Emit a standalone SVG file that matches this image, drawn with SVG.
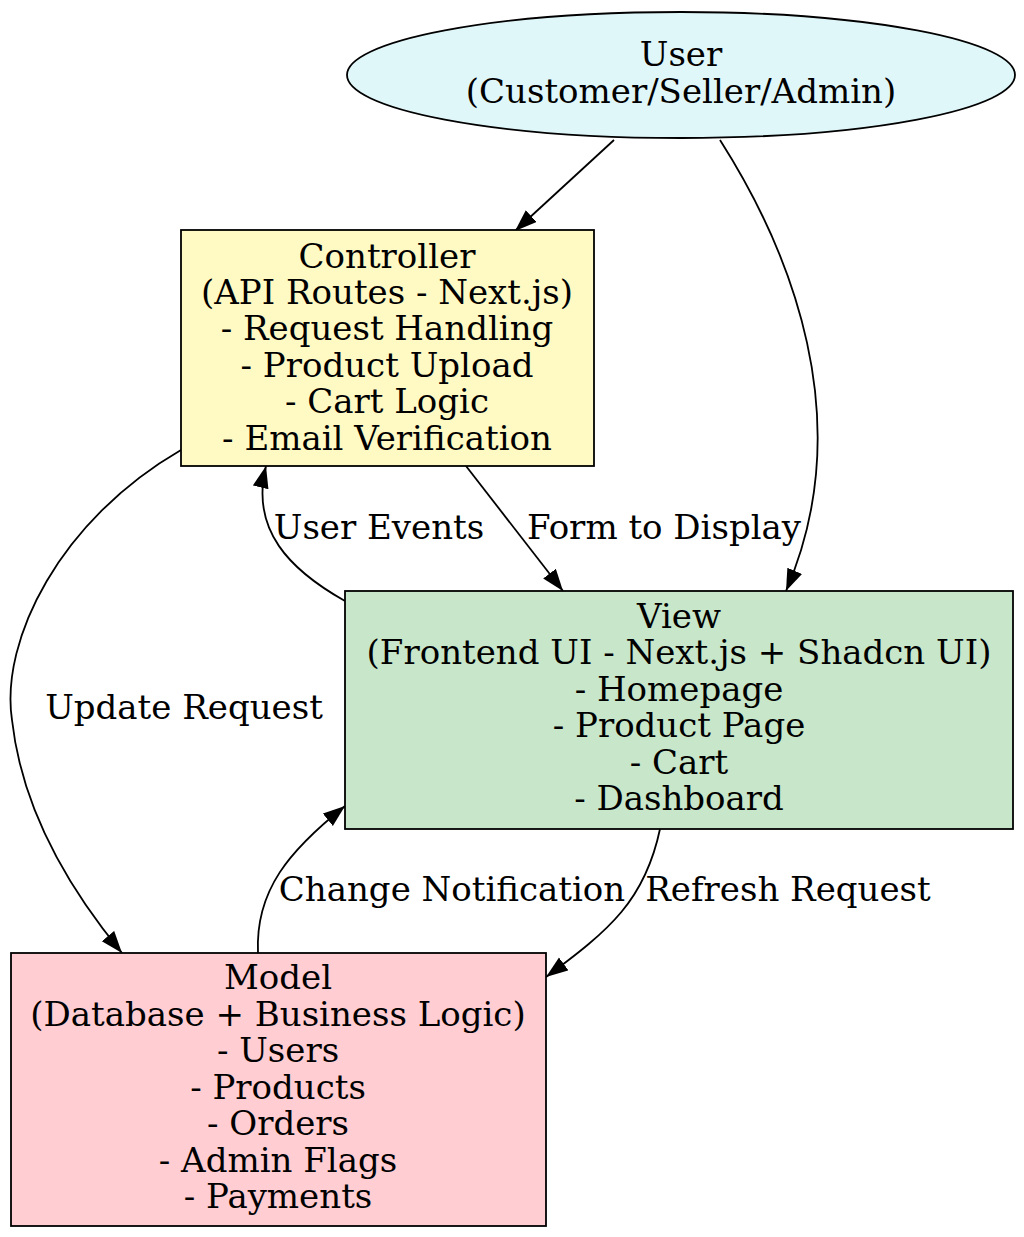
<svg xmlns="http://www.w3.org/2000/svg" width="1024" height="1237" viewBox="0 0 1024 1237">
<style>
text{font-family:"DejaVu Serif",serif;font-size:34px;fill:#000;text-anchor:middle}
.n{stroke:#000;stroke-width:1.8}
.e{fill:none;stroke:#000;stroke-width:1.8}
</style>
<defs>
<marker id="ah" markerUnits="userSpaceOnUse" markerWidth="24" markerHeight="18" refX="22" refY="8" orient="auto">
<path d="M0,0 L22,8 L0,16 z" fill="#000"/>
</marker>
</defs>
<rect width="1024" height="1237" fill="#fff"/>
<g id="edges">
<path class="e" d="M614,140 L515,231" marker-end="url(#ah)"/>
<path class="e" d="M720,140 C790,250 860,420 786,591" marker-end="url(#ah)"/>
<path class="e" d="M466,466 L563,591" marker-end="url(#ah)"/>
<path class="e" d="M345,601 C290,570 250,530 266,466" marker-end="url(#ah)"/>
<path class="e" d="M181,450 C60,520 0,640 12,720 C22,810 70,890 122,953" marker-end="url(#ah)"/>
<path class="e" d="M258,953 C255,890 290,850 345,806" marker-end="url(#ah)"/>
<path class="e" d="M660,829 C645,900 610,930 546,977" marker-end="url(#ah)"/>
<text x="379" y="539">User Events</text>
<text x="664" y="539">Form to Display</text>
<text x="184" y="719">Update Request</text>
<text x="452" y="901">Change Notification</text>
<text x="788" y="901">Refresh Request</text>
</g>
<g id="user">
<ellipse class="n" cx="681" cy="75" rx="334" ry="63" fill="#e0f7fa"/>
<text x="681" y="66">User</text>
<text x="681" y="103">(Customer/Seller/Admin)</text>
</g>
<g id="controller">
<rect class="n" x="181" y="230" width="413" height="236" fill="#fff9c4"/>
<text x="387" y="268">Controller</text>
<text x="387" y="304">(API Routes - Next.js)</text>
<text x="387" y="340">- Request Handling</text>
<text x="387" y="377">- Product Upload</text>
<text x="387" y="413">- Cart Logic</text>
<text x="387" y="450">- Email Verification</text>
</g>
<g id="view">
<rect class="n" x="345" y="591" width="668" height="238" fill="#c8e6c9"/>
<text x="679" y="628">View</text>
<text x="679" y="664">(Frontend UI - Next.js + Shadcn UI)</text>
<text x="679" y="701">- Homepage</text>
<text x="679" y="737">- Product Page</text>
<text x="679" y="774">- Cart</text>
<text x="679" y="810">- Dashboard</text>
</g>
<g id="model">
<rect class="n" x="11" y="953" width="535" height="273" fill="#ffcdd2"/>
<text x="278" y="989">Model</text>
<text x="278" y="1026">(Database + Business Logic)</text>
<text x="278" y="1062">- Users</text>
<text x="278" y="1099">- Products</text>
<text x="278" y="1135">- Orders</text>
<text x="278" y="1172">- Admin Flags</text>
<text x="278" y="1208">- Payments</text>
</g>
</svg>
